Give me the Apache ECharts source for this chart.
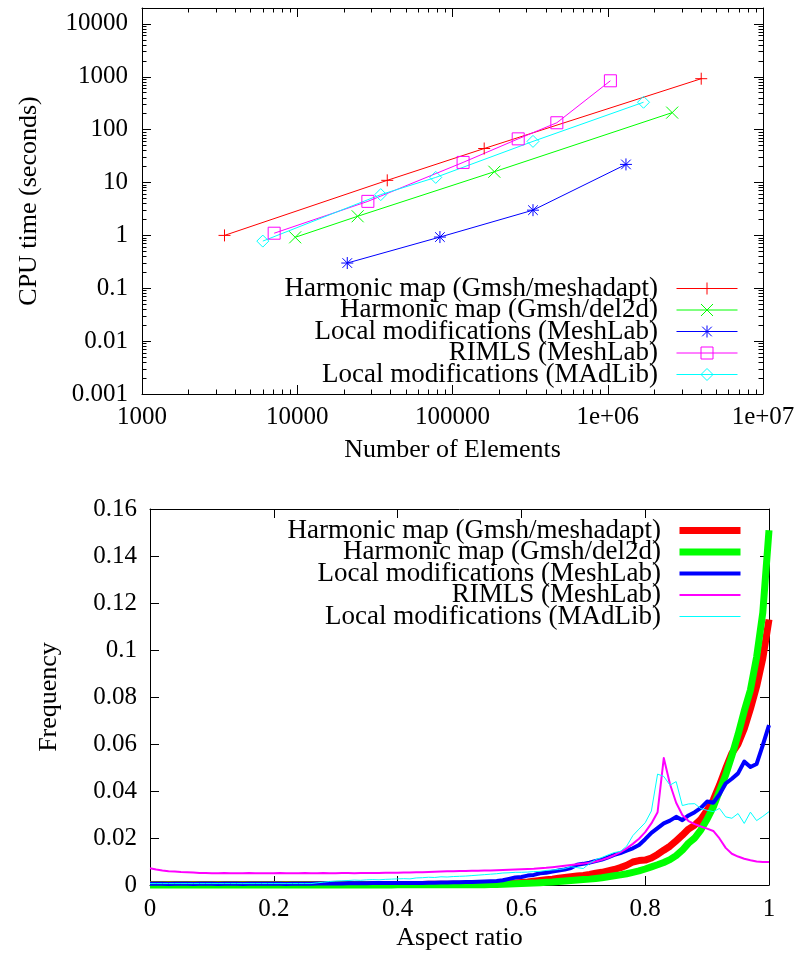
<!DOCTYPE html>
<html>
<head>
<meta charset="utf-8">
<title>CPU time and aspect ratio</title>
<script src="https://cdn.jsdelivr.net/npm/echarts@6/dist/echarts.min.js"></script>
<style>
  html, body { margin: 0; padding: 0; background: #fff; }
  #main { width: 802px; height: 954px; }
</style>
</head>
<body>
<div id="main"></div>
<script>
// series names (prefix keeps the two legends apart, stripped in the formatter)
const methodNames = [
  'Harmonic map (Gmsh/meshadapt)',
  'Harmonic map (Gmsh/del2d)',
  'Local modifications (MeshLab)',
  'RIMLS (MeshLab)',
  'Local modifications (MAdLib)'
];
const colors = ['#ff0000', '#00ff00', '#0000ff', '#ff00ff', '#00ffff'];

// top plot: number of elements vs CPU time
const elemsMeshadapt = [3400, 38000, 160000, 4000000];
const cpuMeshadapt = [1.0, 11, 44, 920];
const elemsDel2d = [9700, 24500, 186000, 2600000];
const cpuDel2d = [0.92, 2.3, 16, 210];
const elemsMeshLab = [21000, 83000, 330000, 1310000];
const cpuMeshLab = [0.30, 0.93, 3.0, 22];
const elemsRimls = [7100, 28500, 117000, 265000, 470000, 1040000];
const cpuRimls = [1.1, 4.4, 24, 67, 135, 840];
const elemsMadlib = [6000, 34500, 78000, 330000, 1700000];
const cpuMadlib = [0.78, 5.9, 12.5, 60, 330];

const xTicksTop = [1e3, 1e4, 1e5, 1e6, 1e7];
const xTickLabelsTop = ['1000', '10000', '100000', '1e+06', '1e+07'];
const yTicksTop = [0.001, 0.01, 0.1, 1, 10, 100, 1000, 10000];
const yTickLabelsTop = ['0.001', '0.01', '0.1', '1', '10', '100', '1000', '10000'];

// bottom plot: aspect ratio histogram
const aspectBins = [
  0.00, 0.01, 0.02, 0.03, 0.04, 0.05, 0.06, 0.07, 0.08, 0.09,
  0.10, 0.11, 0.12, 0.13, 0.14, 0.15, 0.16, 0.17, 0.18, 0.19,
  0.20, 0.21, 0.22, 0.23, 0.24, 0.25, 0.26, 0.27, 0.28, 0.29,
  0.30, 0.31, 0.32, 0.33, 0.34, 0.35, 0.36, 0.37, 0.38, 0.39,
  0.40, 0.41, 0.42, 0.43, 0.44, 0.45, 0.46, 0.47, 0.48, 0.49,
  0.50, 0.51, 0.52, 0.53, 0.54, 0.55, 0.56, 0.57, 0.58, 0.59,
  0.60, 0.61, 0.62, 0.63, 0.64, 0.65, 0.66, 0.67, 0.68, 0.69,
  0.70, 0.71, 0.72, 0.73, 0.74, 0.75, 0.76, 0.77, 0.78, 0.79,
  0.80, 0.81, 0.82, 0.83, 0.84, 0.85, 0.86, 0.87, 0.88, 0.89,
  0.90, 0.91, 0.92, 0.93, 0.94, 0.95, 0.96, 0.97, 0.98, 0.99,
  1.00
];
const freqMeshadapt = [
  0.0002, 0.0002, 0.0002, 0.0002, 0.0002, 0.0002, 0.0002, 0.0002, 0.0002, 0.0002,
  0.0002, 0.0002, 0.0002, 0.0002, 0.0002, 0.0002, 0.0002, 0.0002, 0.0002, 0.0002,
  0.0002, 0.0002, 0.0002, 0.0002, 0.0002, 0.0002, 0.0002, 0.0002, 0.0002, 0.0002,
  0.0002, 0.0002, 0.0002, 0.0002, 0.0002, 0.0002, 0.0002, 0.0002, 0.0002, 0.0002,
  0.0002, 0.0002, 0.0002, 0.0002, 0.0002, 0.0003, 0.0003, 0.0003, 0.0003, 0.0003,
  0.0003, 0.0003, 0.0003, 0.0004, 0.0004, 0.0005, 0.0006, 0.0007, 0.0008, 0.0009,
  0.0011, 0.0013, 0.0016, 0.0019, 0.0022, 0.0025, 0.0029, 0.0032, 0.0035, 0.0038,
  0.0041, 0.0045, 0.0050, 0.0054, 0.0060, 0.0066, 0.0074, 0.0084, 0.0098, 0.0104,
  0.0106, 0.0115, 0.0130, 0.0148, 0.0165, 0.0188, 0.0212, 0.0238, 0.0255, 0.0280,
  0.0318, 0.0362, 0.0425, 0.0495, 0.0560, 0.0600, 0.0665, 0.0750, 0.0845, 0.0965,
  0.1130
];
const freqDel2d = [
  0, 0, 0, 0, 0, 0, 0, 0, 0, 0,
  0, 0, 0, 0, 0, 0, 0, 0, 0, 0,
  0, 0, 0, 0, 0, 0, 0, 0, 0, 0,
  0, 0, 0, 0, 0, 0, 0, 0, 0, 0,
  0.0001, 0.0001, 0.0001, 0.0001, 0.0001, 0.0001, 0.0001, 0.0001, 0.0001, 0.0001,
  0.0001, 0.0001, 0.0001, 0.0001, 0.0001, 0.0002, 0.0002, 0.0003, 0.0004, 0.0005,
  0.0006, 0.0007, 0.0008, 0.0010, 0.0012, 0.0013, 0.0015, 0.0017, 0.0019, 0.0021,
  0.0023, 0.0025, 0.0028, 0.0031, 0.0035, 0.0039, 0.0043, 0.0048, 0.0054, 0.0060,
  0.0068, 0.0077, 0.0086, 0.0096, 0.0108, 0.0125, 0.0148, 0.0178, 0.0200, 0.0235,
  0.0280, 0.0332, 0.0400, 0.0468, 0.0550, 0.0640, 0.0740, 0.0830, 0.0970, 0.1160,
  0.1510
];
const freqMeshLab = [
  0.0005, 0.0005, 0.0005, 0.0004, 0.0005, 0.0005, 0.0005, 0.0004, 0.0005, 0.0005,
  0.0005, 0.0004, 0.0005, 0.0005, 0.0005, 0.0004, 0.0005, 0.0005, 0.0005, 0.0005,
  0.0005, 0.0005, 0.0004, 0.0005, 0.0005, 0.0005, 0.0005, 0.0006, 0.0006, 0.0006,
  0.0006, 0.0006, 0.0007, 0.0007, 0.0007, 0.0007, 0.0008, 0.0008, 0.0008, 0.0008,
  0.0008, 0.0009, 0.0009, 0.0009, 0.0009, 0.0010, 0.0010, 0.0011, 0.0011, 0.0012,
  0.0012, 0.0013, 0.0013, 0.0014, 0.0015, 0.0016, 0.0017, 0.0020, 0.0026, 0.0032,
  0.0034, 0.0040, 0.0043, 0.0050, 0.0052, 0.0057, 0.0062, 0.0066, 0.0072, 0.0086,
  0.0090, 0.0095, 0.0102, 0.0108, 0.0118, 0.0128, 0.0136, 0.0146, 0.0156, 0.0170,
  0.0195, 0.0222, 0.0242, 0.0262, 0.0274, 0.0290, 0.0276, 0.0296, 0.0310, 0.0328,
  0.0355, 0.0350, 0.0385, 0.0432, 0.0452, 0.0475, 0.0525, 0.0502, 0.0515, 0.0595,
  0.0680
];
const freqRimls = [
  0.0071, 0.0066, 0.0062, 0.0059, 0.0057, 0.0055, 0.0054, 0.0053, 0.0051, 0.0051,
  0.0050, 0.0050, 0.0051, 0.0050, 0.0050, 0.0050, 0.0051, 0.0050, 0.0050, 0.0050,
  0.0050, 0.0051, 0.0050, 0.0050, 0.0050, 0.0051, 0.0050, 0.0050, 0.0051, 0.0050,
  0.0050, 0.0051, 0.0051, 0.0050, 0.0051, 0.0051, 0.0051, 0.0051, 0.0052, 0.0052,
  0.0052, 0.0053, 0.0053, 0.0054, 0.0054, 0.0055, 0.0056, 0.0057, 0.0058, 0.0059,
  0.0060, 0.0060, 0.0061, 0.0061, 0.0062, 0.0062, 0.0063, 0.0064, 0.0065, 0.0066,
  0.0067, 0.0068, 0.0069, 0.0071, 0.0073, 0.0076, 0.0079, 0.0082, 0.0085, 0.0088,
  0.0091, 0.0095, 0.0100, 0.0107, 0.0116, 0.0127, 0.0140, 0.0156, 0.0175, 0.0197,
  0.0225, 0.0262, 0.0310, 0.0540, 0.0430, 0.0350, 0.0298, 0.0272, 0.0259, 0.0249,
  0.0240, 0.0230, 0.0198, 0.0158, 0.0133, 0.0121, 0.0112, 0.0105, 0.0100, 0.0098,
  0.0098
];
const freqMadlib = [
  0.0006, 0.0006, 0.0006, 0.0006, 0.0006, 0.0006, 0.0006, 0.0006, 0.0006, 0.0006,
  0.0006, 0.0006, 0.0006, 0.0006, 0.0006, 0.0006, 0.0006, 0.0006, 0.0006, 0.0006,
  0.0006, 0.0006, 0.0006, 0.0006, 0.0006, 0.0006, 0.0006, 0.0009, 0.0012, 0.0015,
  0.0017, 0.0018, 0.0019, 0.0021, 0.0020, 0.0022, 0.0023, 0.0022, 0.0024, 0.0025,
  0.0026, 0.0027, 0.0026, 0.0030, 0.0031, 0.0033, 0.0032, 0.0035, 0.0034, 0.0036,
  0.0037, 0.0038, 0.0040, 0.0042, 0.0044, 0.0046, 0.0048, 0.0051, 0.0052, 0.0054,
  0.0054, 0.0055, 0.0057, 0.0058, 0.0062, 0.0064, 0.0066, 0.0070, 0.0078, 0.0074,
  0.0070, 0.0092, 0.0108, 0.0117, 0.0128, 0.0138, 0.0143, 0.0165, 0.0210, 0.0238,
  0.0265, 0.0315, 0.0472, 0.0462, 0.0425, 0.0440, 0.0338, 0.0345, 0.0346, 0.0325,
  0.0318, 0.0312, 0.0326, 0.0290, 0.0284, 0.0304, 0.0262, 0.0310, 0.0274, 0.0292,
  0.0312
];

const xTicksBottom = [0, 0.2, 0.4, 0.6, 0.8, 1];
const xTickLabelsBottom = ['0', '0.2', '0.4', '0.6', '0.8', '1'];
const yTicksBottom = [0, 0.02, 0.04, 0.06, 0.08, 0.1, 0.12, 0.14, 0.16];
const yTickLabelsBottom = ['0', '0.02', '0.04', '0.06', '0.08', '0.1', '0.12', '0.14', '0.16'];

const FONT = "'Liberation Serif', 'DejaVu Serif', serif";
const black = '#000';

// gnuplot point types
const symPlus = 'path://M0,-1L0,1M-1,0L1,0';
const symCross = 'path://M-1,-1L1,1M-1,1L1,-1';
const symStar = 'path://M0,-1L0,1M-1,0L1,0M-0.8,-0.8L0.8,0.8M-0.8,0.8L0.8,-0.8';
const symSquare = 'path://M-1,-1L1,-1L1,1L-1,1Z';
const symDiamond = 'path://M0,-1L1,0L0,1L-1,0Z';
const topSymbols = [symPlus, symCross, symStar, symSquare, symDiamond];
const bottomWidths = [7, 7, 4, 2, 1];

function zip(xs, ys) {
  return xs.map((x, i) => [x, ys[i]]);
}

function minorLog(lo, hi, max) {
  const out = [];
  for (let e = lo; e < hi; e++) {
    for (let m = 2; m <= 9; m++) {
      const v = m * Math.pow(10, e);
      if (v < max) out.push(v);
    }
  }
  return out;
}

function logFormatter(ticks, labels) {
  return v => {
    const i = ticks.findIndex(t => Math.abs(Math.log10(t) - Math.log10(v)) < 1e-6);
    return i >= 0 ? labels[i] : '';
  };
}
function linFormatter(ticks, labels) {
  return v => {
    const i = ticks.findIndex(t => Math.abs(t - v) < 1e-9);
    return i >= 0 ? labels[i] : '';
  };
}

const labelStyle = { color: black, fontFamily: FONT, fontSize: 25 };
const nameStyle = { color: black, fontFamily: FONT, fontSize: 26 };

function logAxis(grid, position, min, max, opts) {
  return Object.assign({
    type: 'log',
    logBase: 10,
    gridIndex: grid,
    position: position,
    min: min,
    max: max,
    splitLine: { show: false },
    axisLine: { show: true, onZero: false, lineStyle: { color: black, width: 1 } },
    axisTick: { show: false },
    axisLabel: { show: false }
  }, opts);
}

const topXMinor = minorLog(3, 7, 1e7);
const topYMinor = minorLog(-3, 5, 20000);

const xAxes = [];
const yAxes = [];
// top plot axes: major ticks with labels, minor ticks, mirrored on top/right
xAxes.push(logAxis(0, 'bottom', 1000, 1e7, {
  name: 'Number of Elements',
  nameLocation: 'middle',
  nameGap: 43,
  nameTextStyle: nameStyle,
  axisTick: { show: true, inside: true, length: 9, customValues: xTicksTop, lineStyle: { color: black } },
  axisLabel: { show: true, margin: 11, customValues: xTicksTop, formatter: logFormatter(xTicksTop, xTickLabelsTop), ...labelStyle }
}));
xAxes.push(logAxis(0, 'bottom', 1000, 1e7, {
  axisLine: { show: false },
  axisTick: { show: true, inside: true, length: 4.5, customValues: topXMinor, lineStyle: { color: black } }
}));
xAxes.push(logAxis(0, 'top', 1000, 1e7, {
  axisTick: { show: true, inside: true, length: 9, customValues: xTicksTop, lineStyle: { color: black } }
}));
xAxes.push(logAxis(0, 'top', 1000, 1e7, {
  axisLine: { show: false },
  axisTick: { show: true, inside: true, length: 4.5, customValues: topXMinor, lineStyle: { color: black } }
}));
yAxes.push(logAxis(0, 'left', 0.001, 20000, {
  name: 'CPU time (seconds)',
  nameLocation: 'middle',
  nameRotate: 90,
  nameGap: 100,
  nameTextStyle: nameStyle,
  axisTick: { show: true, inside: true, length: 9, customValues: yTicksTop, lineStyle: { color: black } },
  axisLabel: { show: true, margin: 14, customValues: yTicksTop, formatter: logFormatter(yTicksTop, yTickLabelsTop), ...labelStyle }
}));
yAxes.push(logAxis(0, 'left', 0.001, 20000, {
  axisLine: { show: false },
  axisTick: { show: true, inside: true, length: 4.5, customValues: topYMinor, lineStyle: { color: black } }
}));
yAxes.push(logAxis(0, 'right', 0.001, 20000, {
  axisTick: { show: true, inside: true, length: 9, customValues: yTicksTop, lineStyle: { color: black } }
}));
yAxes.push(logAxis(0, 'right', 0.001, 20000, {
  axisLine: { show: false },
  axisTick: { show: true, inside: true, length: 4.5, customValues: topYMinor, lineStyle: { color: black } }
}));

// bottom plot axes
function linAxis(grid, position, min, max, interval, opts) {
  return Object.assign({
    type: 'value',
    gridIndex: grid,
    position: position,
    min: min,
    max: max,
    interval: interval,
    splitLine: { show: false },
    axisLine: { show: true, onZero: false, lineStyle: { color: black, width: 1 } },
    axisTick: { show: true, inside: true, length: 9, lineStyle: { color: black } },
    axisLabel: { show: false }
  }, opts);
}
xAxes.push(linAxis(1, 'bottom', 0, 1, 0.2, {
  name: 'Aspect ratio',
  nameLocation: 'middle',
  nameGap: 40,
  nameTextStyle: nameStyle,
  axisLabel: { show: true, margin: 12, formatter: linFormatter(xTicksBottom, xTickLabelsBottom), ...labelStyle }
}));
xAxes.push(linAxis(1, 'top', 0, 1, 0.2, {}));
yAxes.push(linAxis(1, 'left', 0, 0.16, 0.02, {
  name: 'Frequency',
  nameLocation: 'middle',
  nameRotate: 90,
  nameGap: 88,
  nameTextStyle: nameStyle,
  axisLabel: { show: true, margin: 13, formatter: linFormatter(yTicksBottom, yTickLabelsBottom), ...labelStyle }
}));
yAxes.push(linAxis(1, 'right', 0, 0.16, 0.02, {}));

const topData = [
  zip(elemsMeshadapt, cpuMeshadapt),
  zip(elemsDel2d, cpuDel2d),
  zip(elemsMeshLab, cpuMeshLab),
  zip(elemsRimls, cpuRimls),
  zip(elemsMadlib, cpuMadlib)
];
const bottomData = [
  zip(aspectBins, freqMeshadapt),
  zip(aspectBins, freqDel2d),
  zip(aspectBins, freqMeshLab),
  zip(aspectBins, freqRimls),
  zip(aspectBins, freqMadlib)
];

const series = [];
methodNames.forEach((name, i) => {
  series.push({
    name: 'cpu:' + name,
    type: 'line',
    xAxisIndex: 0,
    yAxisIndex: 0,
    data: topData[i],
    symbol: topSymbols[i],
    symbolSize: 12,
    showAllSymbol: true,
    itemStyle: { color: 'none', borderColor: colors[i], borderWidth: 1 },
    lineStyle: { color: colors[i], width: 1 },
    emphasis: { disabled: true },
    animation: false
  });
});
methodNames.forEach((name, i) => {
  series.push({
    name: 'ar:' + name,
    type: 'line',
    xAxisIndex: 4,
    yAxisIndex: 4,
    data: bottomData[i],
    symbol: 'none',
    clip: false,
    itemStyle: { color: colors[i] },
    lineStyle: { color: colors[i], width: bottomWidths[i], join: 'round' },
    emphasis: { disabled: true },
    animation: false
  });
});

function legendFormatter(name) {
  return name.slice(name.indexOf(':') + 1) + '  ';
}

const legendText = { color: black, fontFamily: FONT, fontSize: 27 };

const option = {
  backgroundColor: '#fff',
  animation: false,
  grid: [
    { left: 142, top: 8, width: 621, height: 386, containLabel: false, outerBoundsMode: 'none' },
    { left: 150, top: 509, width: 619, height: 376, containLabel: false, outerBoundsMode: 'none' }
  ],
  xAxis: xAxes,
  yAxis: yAxes,
  legend: [
    {
      orient: 'vertical',
      align: 'right',
      right: 64,
      top: 275,
      padding: 0,
      itemGap: -5.5,
      itemWidth: 61,
      itemHeight: 15,
      selectedMode: false,
      formatter: legendFormatter,
      textStyle: legendText,
      itemStyle: { borderWidth: 1 },
      data: methodNames.map(n => ({ name: 'cpu:' + n, lineStyle: { width: 1 } }))
    },
    {
      orient: 'vertical',
      align: 'right',
      right: 58,
      top: 517,
      padding: 0,
      itemGap: -5.5,
      itemWidth: 61,
      itemHeight: 15,
      selectedMode: false,
      formatter: legendFormatter,
      textStyle: legendText,
      data: methodNames.map((n, i) => ({
        name: 'ar:' + n,
        lineStyle: { width: bottomWidths[i] },
        itemStyle: { color: 'none', borderWidth: 0 }
      }))
    }
  ],
  series: series
};

const chart = echarts.init(document.getElementById('main'), null, { renderer: 'canvas' });
chart.setOption(option);
</script>
</body>
</html>
